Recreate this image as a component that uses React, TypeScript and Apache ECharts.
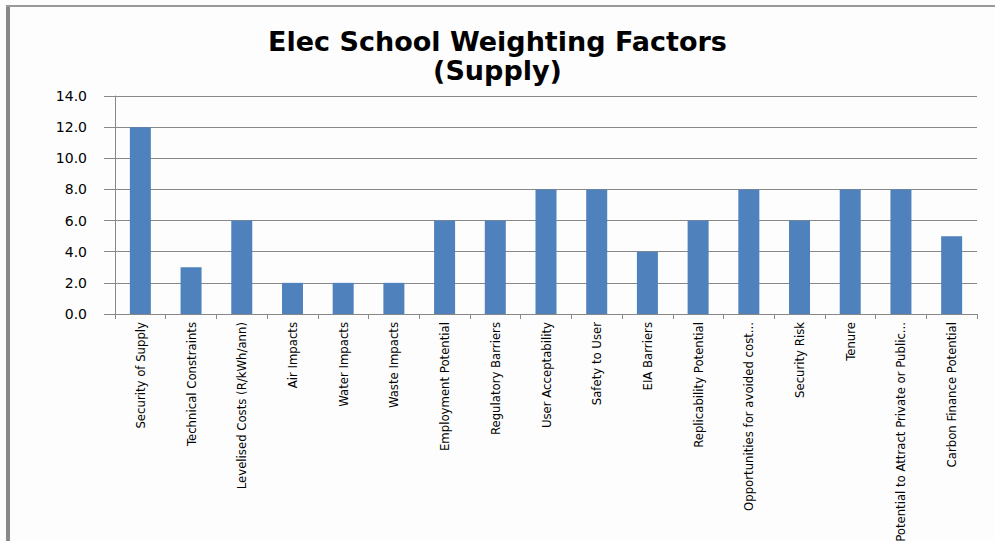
import React, { useEffect, useRef } from "react";
import * as echarts from "echarts";

const categories = [
  "Security of Supply",
  "Technical Constraints",
  "Levelised Costs (R/kWh/ann)",
  "Air Impacts",
  "Water Impacts",
  "Waste Impacts",
  "Employment Potential",
  "Regulatory Barriers",
  "User Acceptability",
  "Safety to User",
  "EIA Barriers",
  "Replicability Potential",
  "Opportunities for avoided cost...",
  "Security Risk",
  "Tenure",
  "Potential to Attract Private or Public...",
  "Carbon Finance Potential",
];

const weights = [12, 3, 6, 2, 2, 2, 6, 6, 8, 8, 4, 6, 8, 6, 8, 8, 5];

const titleLines = ["Elec School Weighting Factors", "(Supply)"];

export default function App() {
  const ref = useRef<HTMLDivElement>(null);
  useEffect(() => {
    if (!ref.current) return;
    const chart = echarts.init(ref.current, null, { renderer: "svg" });
    chart.setOption({
      animation: false,
      backgroundColor: "#fdfdfd",
      title: {
        text: titleLines.join("\n"),
        left: "center",
        top: 22,
        textStyle: {
          fontFamily: "DejaVu Sans",
          fontWeight: "bold",
          fontSize: 27,
          lineHeight: 29,
          color: "#000",
        },
      },
      graphic: [
        { type: "rect", shape: { x: 6, y: 6, width: 4, height: 535 }, style: { fill: "#888" } },
        { type: "rect", shape: { x: 6, y: 5, width: 989, height: 2 }, style: { fill: "#999" } },
      ],
      grid: {
        left: 115,
        right: 18,
        top: 96,
        bottom: 227,
        containLabel: false,
        outerBoundsMode: "none",
      },
      xAxis: {
        type: "category",
        data: categories,
        axisLine: { lineStyle: { color: "#888", width: 1 } },
        axisTick: { show: true, length: 5, lineStyle: { color: "#888" } },
        axisLabel: {
          rotate: 90,
          interval: 0,
          margin: 8,
          fontFamily: "DejaVu Sans Condensed, Liberation Sans, sans-serif",
          fontSize: 13,
          color: "#000",
        },
      },
      yAxis: {
        type: "value",
        min: 0,
        max: 14,
        interval: 2,
        axisLine: { show: true, lineStyle: { color: "#888" } },
        axisTick: { show: true, length: 11, lineStyle: { color: "#888" } },
        splitLine: { lineStyle: { color: "#888", width: 1 } },
        axisLabel: {
          formatter: (v: number) => v.toFixed(1),
          margin: 28,
          fontFamily: "DejaVu Sans",
          fontSize: 14,
          color: "#000",
        },
      },
      series: [
        {
          type: "bar",
          data: weights,
          barWidth: 21,
          itemStyle: { color: "#4F81BD" },
        },
      ],
    });
    return () => chart.dispose();
  }, []);
  return (
    <div
      ref={ref}
      style={{ position: "fixed", left: 0, top: 0, width: 995, height: 541 }}
    />
  );
}
